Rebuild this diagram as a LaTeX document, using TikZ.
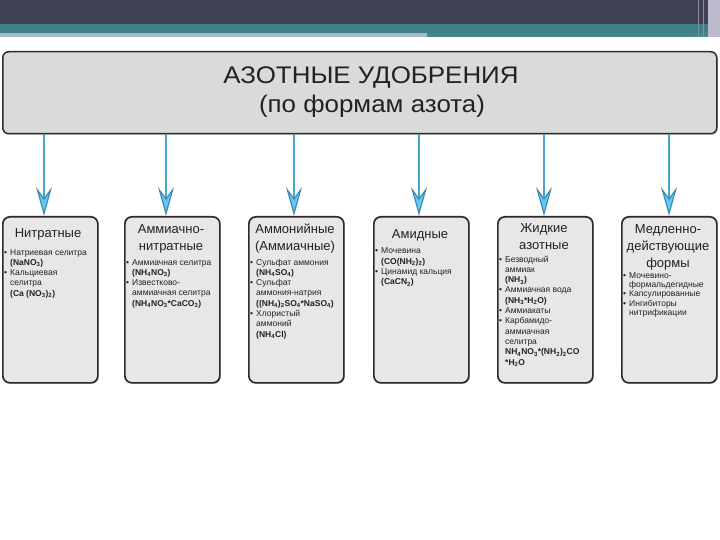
\documentclass[tikz,border=0pt]{standalone}
\usepackage{fontspec}
\setmainfont{Liberation Sans}
\usetikzlibrary{arrows.meta,shadows}
\definecolor{topdark}{HTML}{3F4255}
\definecolor{bandteal}{HTML}{3F7F87}
\definecolor{bandtealb}{HTML}{46878E}
\definecolor{bandlight}{HTML}{A3B9BF}
\definecolor{stripgray}{HTML}{BCBACA}
\definecolor{linegray}{HTML}{8A8C9C}
\definecolor{titlefill}{HTML}{DADADA}
\definecolor{boxfill}{HTML}{E7E7E7}
\definecolor{boxborder}{HTML}{2B2B2B}
\definecolor{arrowline}{HTML}{4AA3D3}
\definecolor{arrowfill}{HTML}{62C8EF}
\definecolor{txt}{HTML}{222222}
\newcommand\bl[1]{\makebox[6pt][l]{\textbullet}#1}
\newcommand\cn[1]{\hspace*{6pt}#1}
\newcommand\fm[1]{\hspace*{6pt}\textbf{#1}}
\newcommand\sbs[1]{\textsubscript{#1}}
\begin{document}
\begin{tikzpicture}[x=1pt,y=-1pt,
  titlebox/.style={draw=boxborder, line width=1.5pt, fill=titlefill, rounded corners=6pt,
    minimum width=714pt, minimum height=82pt, inner sep=0pt, anchor=north west,
    drop shadow={shadow xshift=1pt, shadow yshift=-1pt, opacity=0.4}},
  fbox/.style={draw=boxborder, line width=1.7pt, fill=boxfill, rounded corners=7pt,
    minimum width=95pt, minimum height=166pt, inner sep=0pt, anchor=north west,
    drop shadow={shadow xshift=1pt, shadow yshift=-1pt, opacity=0.4}},
  ttl/.style={anchor=base, inner sep=0pt, text=txt, font=\fontsize{24}{29}\selectfont, xscale=1.08, transform shape},
  head/.style={anchor=base, inner sep=0pt, text=txt, align=center, font=\fontsize{13}{17}\selectfont},
  list/.style={anchor=base west, inner sep=0pt, text=txt, align=left, font=\fontsize{8.5}{10.3}\selectfont},
  arr/.style={draw=arrowline, line width=1.2pt,
    -{Stealth[length=29pt, width=16pt, inset=11pt, fill=arrowfill, color=arrowline!85!black]}}
]
\useasboundingbox (0,0) rectangle (720,540);
% top decoration
\fill[topdark] (0,0) rectangle (720,24);
\fill[bandteal] (0,24) rectangle (720,33);
\fill[bandlight] (0,33) rectangle (427,37);
\fill[bandtealb] (427,33) rectangle (720,37);
\fill[linegray] (697.5,0) rectangle (699,37);
\fill[linegray] (702.5,0) rectangle (704,37);
\fill[stripgray] (708,0) rectangle (720,37);

% title
\node[titlebox] (title) at (2,51) {};
\node[ttl] (t1) at (371,84) {АЗОТНЫЕ УДОБРЕНИЯ};
\node[ttl] (t2) at (372,113) {(по формам азота)};

% boxes
\node[fbox] (b1) at (2,216) {};
\node[fbox] (b2) at (124,216) {};
\node[fbox] (b3) at (248,216) {};
\node[fbox] (b4) at (373,216) {};
\node[fbox] (b5) at (497,216) {};
\node[fbox] (b6) at (621,216) {};

% arrows
\coordinate (x1) at (44,0);
\coordinate (x2) at (166,0);
\coordinate (x3) at (294,0);
\coordinate (x4) at (419,0);
\coordinate (x5) at (544,0);
\coordinate (x6) at (669,0);
\draw[arr] (title.south -| x1) -- (b1.north -| x1);
\draw[arr] (title.south -| x2) -- (b2.north -| x2);
\draw[arr] (title.south -| x3) -- (b3.north -| x3);
\draw[arr] (title.south -| x4) -- (b4.north -| x4);
\draw[arr] (title.south -| x5) -- (b5.north -| x5);
\draw[arr] (title.south -| x6) -- (b6.north -| x6);

% box 1 (anchors at the baseline of the last line)
\node[head] (h1) at (48,237) {Нитратные};
\node[list] (l1) at (4,296.2) {\bl{Натриевая селитра}\\ \fm{(NaNO\sbs{3})}\\ \bl{Кальциевая}\\ \cn{селитра}\\ \fm{(Ca (NO\sbs{3})\sbs{2})}};

% box 2
\node[head] (h2) at (171,250) {Аммиачно-\\нитратные};
\node[list] (l2) at (126,306.2) {\bl{Аммиачная селитра}\\ \fm{(NH\sbs{4}NO\sbs{3})}\\ \bl{Известково-}\\ \cn{аммиачная селитра}\\ \fm{(NH\sbs{4}NO\sbs{3}*CaCO\sbs{3})}};

% box 3
\node[head] (h3) at (295,250) {Аммонийные\\(Аммиачные)};
\node[list] (l3) at (250,337.1) {\bl{Сульфат аммония}\\ \fm{(NH\sbs{4}SO\sbs{4})}\\ \bl{Сульфат}\\ \cn{аммония-натрия}\\ \fm{((NH\sbs{4})\sbs{2}SO\sbs{4}*NaSO\sbs{4})}\\ \bl{Хлористый}\\ \cn{аммоний}\\ \fm{(NH\sbs{4}Cl)}};

% box 4
\node[head] (h4) at (420,238) {Амидные};
\node[list] (l4) at (375,284.9) {\bl{Мочевина}\\ \fm{(CO(NH\sbs{2})\sbs{2})}\\ \bl{Цинамид кальция}\\ \fm{(CaCN\sbs{2})}};

% box 5
\node[head] (h5) at (544,249) {Жидкие\\азотные};
\node[list] (l5) at (499,365) {\bl{Безводный}\\ \cn{аммиак}\\ \fm{(NH\sbs{3})}\\ \bl{Аммиачная вода}\\ \fm{(NH\sbs{3}*H\sbs{2}O)}\\ \bl{Аммиакаты}\\ \bl{Карбамидо-}\\ \cn{аммиачная}\\ \cn{селитра}\\ \fm{NH\sbs{4}NO\sbs{3}*(NH\sbs{2})\sbs{2}CO}\\ \fm{*H\sbs{2}O}};

% box 6
\node[head] (h6) at (668,267) {Медленно-\\действующие\\формы};
\node[list, font=\fontsize{8.5}{9.4}\selectfont] (l6) at (623,315.6) {\bl{Мочевино-}\\ \cn{формальдегидные}\\ \bl{Капсулированные}\\ \bl{Ингибиторы}\\ \cn{нитрификации}};
\end{tikzpicture}
\end{document}
